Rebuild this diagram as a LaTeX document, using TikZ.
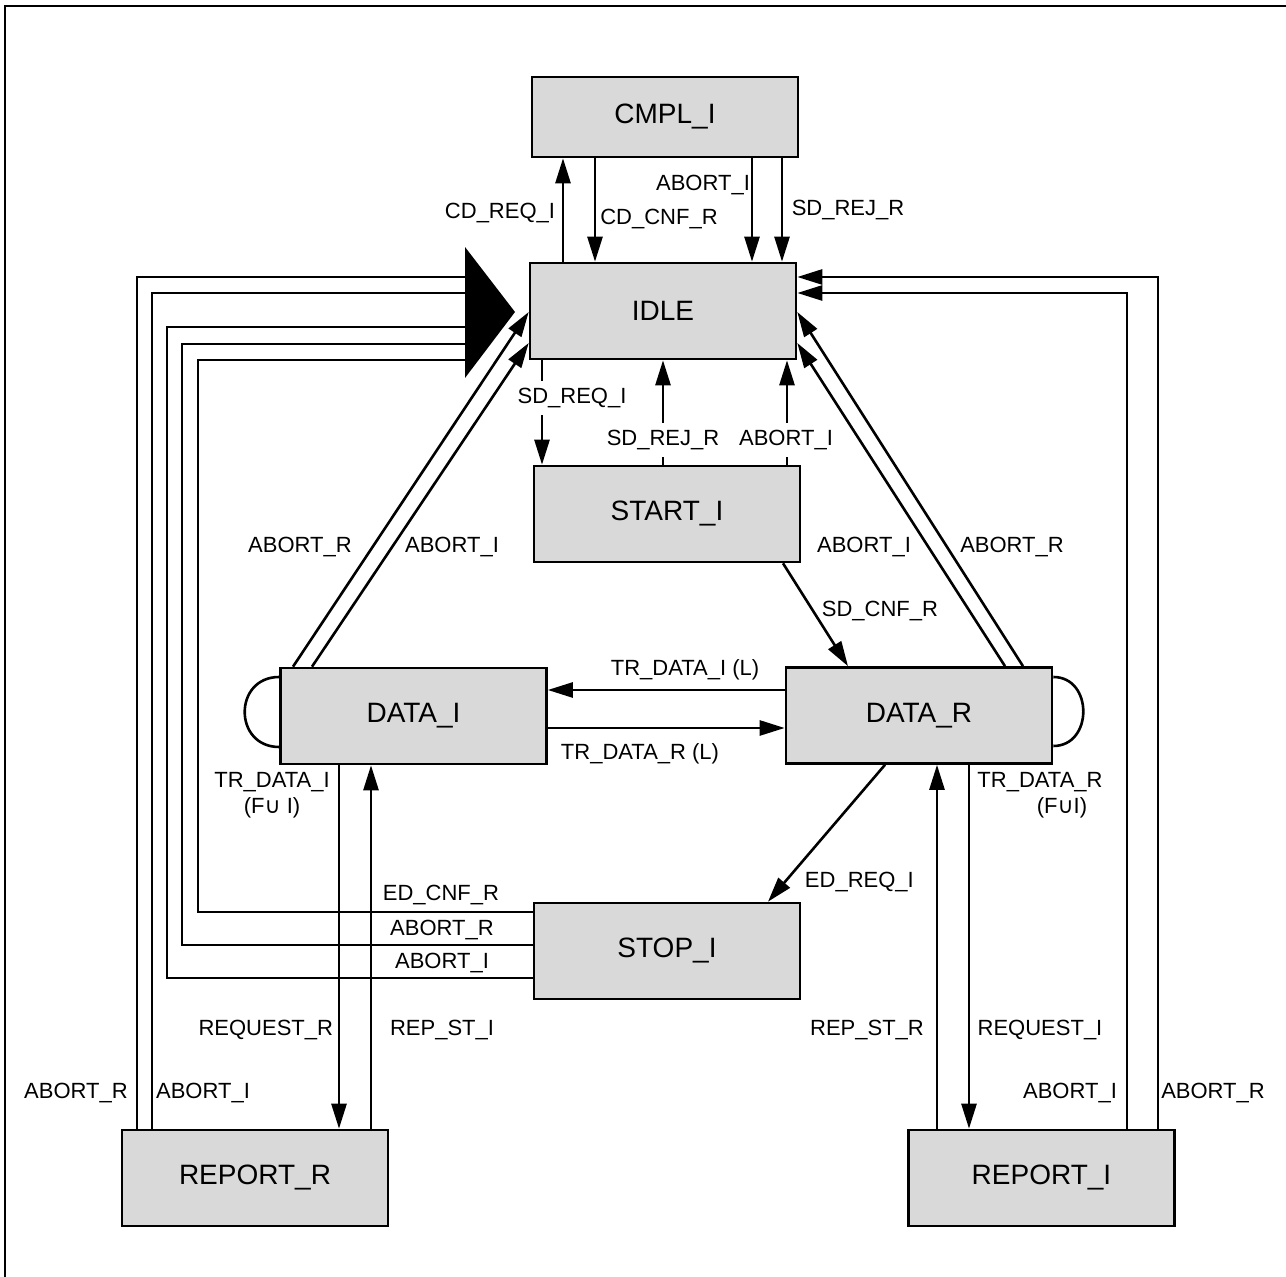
\documentclass[tikz,border=0pt]{standalone}
\usepackage{fontspec}
\setmainfont{Liberation Sans}
\newfontfamily\symfont{DejaVu Sans}
\usetikzlibrary{arrows.meta}
\definecolor{stateGray}{HTML}{D9D9D9}

\begin{document}
\begin{tikzpicture}[x=0.5pt, y=-0.5pt, line width=1.3pt,
    every node/.style={font=\fontsize{11}{13}\selectfont, align=center},
    statebox/.style={draw, fill=stateGray, minimum width=133pt, minimum height=48pt, inner sep=0pt, font=\fontsize{14}{16}\selectfont},
    lbl/.style={fill=white},
    arr/.style={-{Triangle[length=12.5pt, width=7.5pt]}}]
    \useasboundingbox (0,0) rectangle (1286,1277);
    \draw[line width=1.2pt] (5,1277) -- (5,6) -- (1286,6);

    % states
    \node[statebox, minimum height=40pt] (cmpl) at (665,117) {CMPL\_I};
    \node[statebox] (idle) at (663,311) {IDLE};
    \node[statebox] (start) at (667,514) {START\_I};
    \node[statebox] (datai) at (413.5,716) {DATA\_I};
    \node[statebox] (datar) at (919,715.5) {DATA\_R};
    \node[statebox] (stop) at (667,951) {STOP\_I};
    \node[statebox] (repr) at (255,1178) {REPORT\_R};
    \node[statebox] (repi) at (1041.5,1178) {REPORT\_I};

    % CMPL_I <-> IDLE
    \draw[arr] (idle.north -| 563,0) -- (cmpl.south -| 563,0);
    \draw[arr] (cmpl.south -| 595,0) -- (idle.north -| 595,0);
    \draw[arr] (cmpl.south -| 752,0) -- (idle.north -| 752,0);
    \draw[arr] (cmpl.south -| 782,0) -- (idle.north -| 782,0);
    \node (lcdreq) at (500,213) {CD\_REQ\_I};
    \node (lcdcnf) at (659,219) {CD\_CNF\_R};
    \node (labtop) at (703,185) {ABORT\_I};
    \node (lsdrejtop) at (848,210) {SD\_REJ\_R};

    % IDLE <-> START_I
    \draw[arr] (idle.south -| 542,0) -- (start.north -| 542,0);
    \draw[arr] (start.north -| 663,0) -- (idle.south -| 663,0);
    \draw[arr] (start.north -| 787,0) -- (idle.south -| 787,0);
    \node[lbl] (lsdreq) at (572,398) {SD\_REQ\_I};
    \node[lbl] (lsdrej) at (663,440) {SD\_REJ\_R};
    \node[lbl] (labstart) at (786,440) {ABORT\_I};

    % START_I -> DATA_R -> STOP_I
    \draw[arr] (start.south -| 783,0) -- (datar.north -| 848,0);
    \node (lsdcnf) at (880,611) {SD\_CNF\_R};
    \draw[arr] (datar.south -| 885,0) -- (stop.north -| 768,0);
    \node[anchor=west] (ledreq) at (797,882) {ED\_REQ\_I};

    % DATA_I <-> DATA_R
    \draw[arr] (datar.west |- 0,690) -- (datai.east |- 0,690);
    \draw[arr] (datai.east |- 0,728) -- (datar.west |- 0,728);
    \node (ltrdil) at (685,670) {TR\_DATA\_I (L)};
    \node (ltrdrl) at (640,754) {TR\_DATA\_R (L)};

    % aborts from the data states
    \draw[arr] (datai.north -| 293,0) -- (idle.west |- 0,312);
    \draw[arr] (datai.north -| 312,0) -- (idle.west |- 0,343);
    \draw[arr] (datar.north -| 1005,0) -- (idle.east |- 0,343);
    \draw[arr] (datar.north -| 1023,0) -- (idle.east |- 0,312);
    \node (labdil) at (300,547) {ABORT\_R};
    \node (labdii) at (452,547) {ABORT\_I};
    \node (labdri) at (864,547) {ABORT\_I};
    \node (labdrr) at (1012,547) {ABORT\_R};

    % self loops
    \draw (datai.west |- 0,677) .. controls +(-46,0) and +(-46,0) .. (datai.west |- 0,747);
    \draw (datar.east |- 0,677) .. controls +(40,0) and +(40,0) .. (datar.east |- 0,746);
    \node (ltrdi) at (272,795) {TR\_DATA\_I\\(F{\symfont ∪} I)};
    \node (ltrdr) at (1040,795) {TR\_DATA\_R\\\hspace*{22pt}(F{\symfont ∪}I)};

    % DATA_I <-> REPORT_R, DATA_R <-> REPORT_I
    \draw[arr] (datai.south -| 339,0) -- (repr.north -| 339,0);
    \draw[arr] (repr.north -| 371,0) -- (datai.south -| 371,0);
    \draw[arr] (repi.north -| 937,0) -- (datar.south -| 937,0);
    \draw[arr] (datar.south -| 969,0) -- (repi.north -| 969,0);
    \node[anchor=east] (lreqr) at (341,1030) {REQUEST\_R};
    \node (lrepsti) at (442,1030) {REP\_ST\_I};
    \node (lrepstr) at (867,1030) {REP\_ST\_R};
    \node (lreqi) at (1040,1030) {REQUEST\_I};

    % bundle into IDLE
    \fill (465,247) -- (515,312) -- (465,378) -- cycle;
    \coordinate (bundle) at (465,312);
    \draw (repr.north -| 137,0) |- (bundle |- 0,277);
    \draw (repr.north -| 152,0) |- (bundle |- 0,293);
    \draw (stop.west |- 0,978) -| (167,327) -- (bundle |- 0,327);
    \draw (stop.west |- 0,945) -| (182,344) -- (bundle |- 0,344);
    \draw (stop.west |- 0,912) -| (198,360) -- (bundle |- 0,360);
    \node (lrrabr) at (76,1093) {ABORT\_R};
    \node (lrrabi) at (203,1093) {ABORT\_I};
    \node (ledcnf) at (441,895) {ED\_CNF\_R};
    \node (lstabr) at (442,930) {ABORT\_R};
    \node (lstabi) at (442,963) {ABORT\_I};

    % REPORT_I aborts
    \draw[arr] (repi.north -| 1158,0) |- (idle.east |- 0,277);
    \draw[arr] (repi.north -| 1127,0) |- (idle.east |- 0,293);
    \node (lriabi) at (1070,1093) {ABORT\_I};
    \node (lriabr) at (1213,1093) {ABORT\_R};
\end{tikzpicture}
\end{document}
